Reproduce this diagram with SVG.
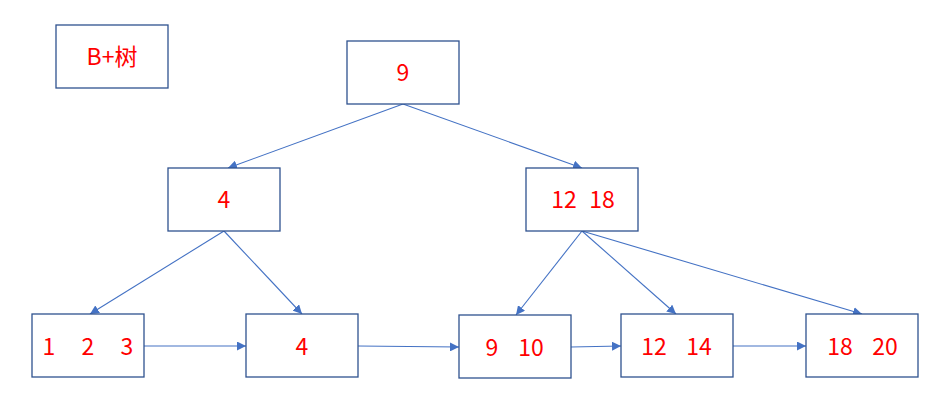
<svg xmlns="http://www.w3.org/2000/svg" width="948" height="410" viewBox="0 0 948 410">
<style>
.box{fill:#fff;stroke:#2F528F;stroke-width:1.3}
.t{fill:#FF0000;font-family:"Noto Sans CJK SC","Liberation Sans",sans-serif;font-size:23px;text-anchor:middle}
.e{stroke:#4472C4;stroke-width:1.1;fill:none;marker-end:url(#a)}
</style>
<defs>
<marker id="a" viewBox="0 0 10 10" refX="10" refY="5" markerWidth="9" markerHeight="9" markerUnits="userSpaceOnUse" orient="auto">
<path d="M0,0 L10,5 L0,10 z" fill="#4472C4"/>
</marker>
</defs>
<rect width="948" height="410" fill="#fff"/>
<g id="connectors">
<line class="e" x1="403" y1="104" x2="228" y2="168"/>
<line class="e" x1="403" y1="104" x2="582" y2="168"/>
<line class="e" x1="224" y1="231" x2="90" y2="314"/>
<line class="e" x1="224" y1="231" x2="302" y2="314"/>
<line class="e" x1="582" y1="231" x2="516" y2="315"/>
<line class="e" x1="582" y1="231" x2="676" y2="314"/>
<line class="e" x1="582" y1="231" x2="862" y2="314"/>
<line class="e" x1="144" y1="346" x2="246" y2="346"/>
<line class="e" x1="358" y1="346" x2="459" y2="347"/>
<line class="e" x1="571" y1="347" x2="621" y2="346"/>
<line class="e" x1="733" y1="346" x2="806" y2="346"/>
</g>
<g id="title"><rect class="box" x="56" y="25" width="112" height="63"/><text class="t" x="112" y="65">B+树</text></g>
<g id="root"><rect class="box" x="347" y="41" width="112" height="63"/><text class="t" x="403" y="81">9</text></g>
<g id="n4"><rect class="box" x="168" y="168" width="112" height="63"/><text class="t" x="224" y="208">4</text></g>
<g id="n1218"><rect class="box" x="526" y="168" width="112" height="63"/><text class="t" x="564" y="208">12</text><text class="t" x="602" y="208">18</text></g>
<g id="leaf123"><rect class="box" x="32" y="314" width="112" height="63"/><text class="t" x="49" y="355">1</text><text class="t" x="88" y="355">2</text><text class="t" x="127" y="355">3</text></g>
<g id="leaf4"><rect class="box" x="246" y="314" width="112" height="63"/><text class="t" x="302" y="355">4</text></g>
<g id="leaf910"><rect class="box" x="459" y="315" width="112" height="63"/><text class="t" x="492" y="356">9</text><text class="t" x="531" y="356">10</text></g>
<g id="leaf1214"><rect class="box" x="621" y="314" width="112" height="63"/><text class="t" x="654" y="355">12</text><text class="t" x="699" y="355">14</text></g>
<g id="leaf1820"><rect class="box" x="806" y="314" width="112" height="63"/><text class="t" x="840" y="355">18</text><text class="t" x="885" y="355">20</text></g>
</svg>
